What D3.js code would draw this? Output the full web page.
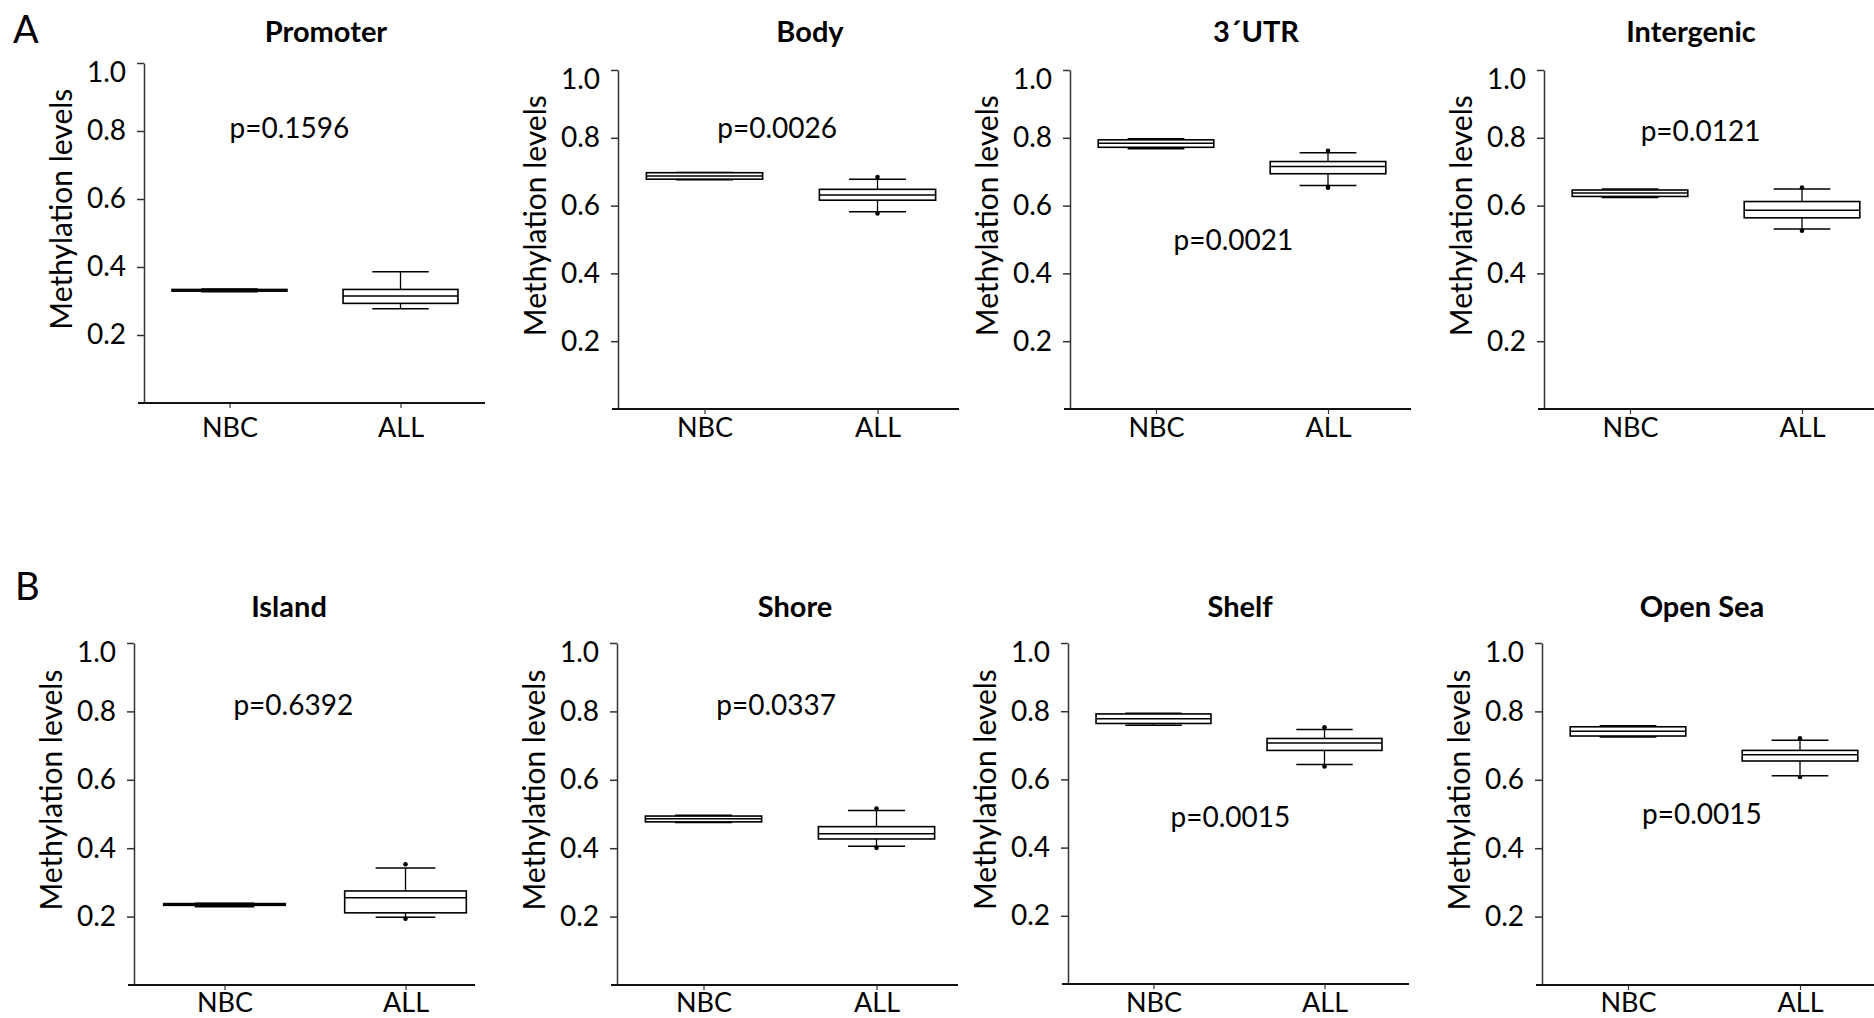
<!DOCTYPE html>
<html>
<head>
<meta charset="utf-8">
<script src="https://cdn.jsdelivr.net/npm/d3@7"></script>
<style>
  body { margin: 0; background: #fff; }
  text { font-family: Lato, 'Open Sans', sans-serif; fill: #000; }
</style>
</head>
<body>
<div id="chart"></div>
<script>
// data
const panelNames = ['Promoter', 'Body', '3´UTR', 'Intergenic', 'Island', 'Shore', 'Shelf', 'Open Sea'];
const groups = ['NBC', 'ALL'];
const yTicks = [0.2, 0.4, 0.6, 0.8, 1.0];
const pLabels = ['p=0.1596', 'p=0.0026', 'p=0.0021', 'p=0.0121', 'p=0.6392', 'p=0.0337', 'p=0.0015', 'p=0.0015'];
// level (methylation units) where each p label sits
const pLevel = [0.78, 0.80, 0.47, 0.79, 0.79, 0.79, 0.46, 0.47];

// [lower whisker, q1, median, q3, upper whisker]
const nbcStats = [
    [0.327, 0.329, 0.332, 0.334, 0.335],
    [0.676, 0.678, 0.687, 0.697, 0.698],
    [0.768, 0.772, 0.784, 0.794, 0.797],
    [0.624, 0.627, 0.637, 0.646, 0.649],
    [0.229, 0.233, 0.236, 0.238, 0.239],
    [0.475, 0.477, 0.486, 0.494, 0.496],
    [0.759, 0.764, 0.778, 0.792, 0.794],
    [0.725, 0.728, 0.742, 0.755, 0.758]
];
const allStats = [
    [0.277, 0.293, 0.315, 0.334, 0.386],
    [0.582, 0.616, 0.631, 0.648, 0.678],
    [0.659, 0.694, 0.715, 0.730, 0.756],
    [0.531, 0.564, 0.586, 0.612, 0.649],
    [0.198, 0.211, 0.255, 0.275, 0.342],
    [0.406, 0.427, 0.442, 0.463, 0.510],
    [0.644, 0.685, 0.707, 0.720, 0.746],
    [0.612, 0.655, 0.673, 0.686, 0.716]
];
// min / max points of the ALL group
const allExtremes = [
    null,
    [0.577, 0.684],
    [0.653, 0.762],
    [0.526, 0.653],
    [0.194, 0.353],
    [0.401, 0.516],
    [0.638, 0.753],
    [0.608, 0.721]
];

// layout of the 8 panels
const axisX = [144, 618, 1070, 1544, 134, 617, 1068, 1542];
const plotTop = [63, 70, 70, 70, 643, 643, 643, 643];
const plotBottom = [403, 409, 409, 409, 985, 985, 984, 985];
const xWidth = [342, 346, 344, 344, 362, 346, 342, 344];
const titleOffset = [182, 192, 186, 147, 155, 178, 172, 160];
const pFrac = [0.35, 0.42, 0.45, 0.41, 0.38, 0.42, 0.45, 0.43];

const svg = d3.select('#chart')
    .append('svg')
    .attr('width', 1874)
    .attr('height', 1018);

svg.append('text').attr('x', 13).attr('y', 43).attr('font-size', 38).text('A');
svg.append('text').attr('x', 15).attr('y', 600).attr('font-size', 38).text('B');

panelNames.forEach((name, i) => drawPanel(i));

function drawPanel(i) {

    let row = i < 4 ? 0 : 1,
        ax = axisX[i],
        g = svg.append('g').attr('class', 'panel');

    let y = d3.scaleLinear().domain([0, 1]).range([plotBottom[i], plotTop[i]]);
    let x = d3.scalePoint().domain(groups).range([ax, ax + xWidth[i]]).padding(0.5);
    let step = x.step(),
        boxW = step * 0.672,
        capW = step * 0.33;

    // y axis
    let yAxis = g.append('g')
        .attr('transform', 'translate(' + ax + ',0)')
        .call(d3.axisLeft(y).tickValues(yTicks).tickFormat(d3.format('.1f')).tickSize(7).tickPadding(11).tickSizeOuter(0));
    yAxis.select('.domain').attr('stroke', '#333').attr('stroke-width', 1.5);
    yAxis.selectAll('.tick line').attr('stroke', '#333').attr('stroke-width', 1.5);
    yAxis.selectAll('.tick text')
        .attr('font-size', 28)
        .attr('font-family', 'Lato')
        .attr('fill', '#000')
        .attr('y', d => d === 1 ? 10 : 0);

    g.append('text')
        .attr('transform', 'translate(' + (ax - 72) + ',' + y(0.57) + ') rotate(-90)')
        .attr('text-anchor', 'middle')
        .attr('font-size', 30)
        .text('Methylation levels');

    // x axis
    g.append('line')
        .attr('x1', ax - 6).attr('x2', ax + 341)
        .attr('y1', plotBottom[i]).attr('y2', plotBottom[i])
        .attr('stroke', '#111').attr('stroke-width', 2);

    let xAxis = g.append('g')
        .attr('transform', 'translate(0,' + plotBottom[i] + ')')
        .call(d3.axisBottom(x).tickSize(5));
    xAxis.select('.domain').remove();
    xAxis.selectAll('.tick line').attr('stroke', '#333').attr('stroke-width', 1.2);
    xAxis.selectAll('.tick text')
        .attr('font-size', 27)
        .attr('font-family', 'Lato')
        .attr('fill', '#000')
        .attr('dy', 0)
        .attr('y', (row === 0 ? 437 : 1012) - plotBottom[i]);

    // title
    g.append('text')
        .attr('x', ax + titleOffset[i])
        .attr('y', row === 0 ? 42 : 617)
        .attr('text-anchor', 'middle')
        .attr('font-size', 29)
        .attr('font-weight', 'bold')
        .text(panelNames[i]);

    // p value
    g.append('text')
        .attr('x', x('NBC') + pFrac[i] * step)
        .attr('y', y(pLevel[i]))
        .attr('text-anchor', 'middle')
        .attr('font-size', 28)
        .text(pLabels[i]);

    // boxes
    let boxes = [{ grp: 'NBC', s: nbcStats[i], ext: null }, { grp: 'ALL', s: allStats[i], ext: allExtremes[i] }];

    let b = g.selectAll('.box')
        .data(boxes)
        .enter()
        .append('g')
        .attr('class', 'box');

    b.append('line')
        .attr('x1', d => x(d.grp)).attr('x2', d => x(d.grp))
        .attr('y1', d => y(d.s[0])).attr('y2', d => y(d.s[4]))
        .attr('stroke', '#000').attr('stroke-width', 1.3);

    b.selectAll('.cap')
        .data(d => [d.s[0], d.s[4]].map(v => ({ grp: d.grp, v: v })))
        .enter()
        .append('line')
        .attr('x1', d => x(d.grp) - capW / 2).attr('x2', d => x(d.grp) + capW / 2)
        .attr('y1', d => y(d.v)).attr('y2', d => y(d.v))
        .attr('stroke', '#000').attr('stroke-width', 1.5);

    b.append('rect')
        .attr('x', d => x(d.grp) - boxW / 2)
        .attr('y', d => y(d.s[3]))
        .attr('width', boxW)
        .attr('height', d => y(d.s[1]) - y(d.s[3]))
        .attr('fill', '#fff')
        .attr('stroke', '#000').attr('stroke-width', 1.6);

    b.append('line')
        .attr('x1', d => x(d.grp) - boxW / 2).attr('x2', d => x(d.grp) + boxW / 2)
        .attr('y1', d => y(d.s[2])).attr('y2', d => y(d.s[2]))
        .attr('stroke', '#000').attr('stroke-width', 1.5);

    b.selectAll('.dot')
        .data(d => d.ext ? d.ext.map(v => ({ grp: d.grp, v: v })) : [])
        .enter()
        .append('circle')
        .attr('cx', d => x(d.grp))
        .attr('cy', d => y(d.v))
        .attr('r', 2.3)
        .attr('fill', '#000');
}
</script>
</body>
</html>
